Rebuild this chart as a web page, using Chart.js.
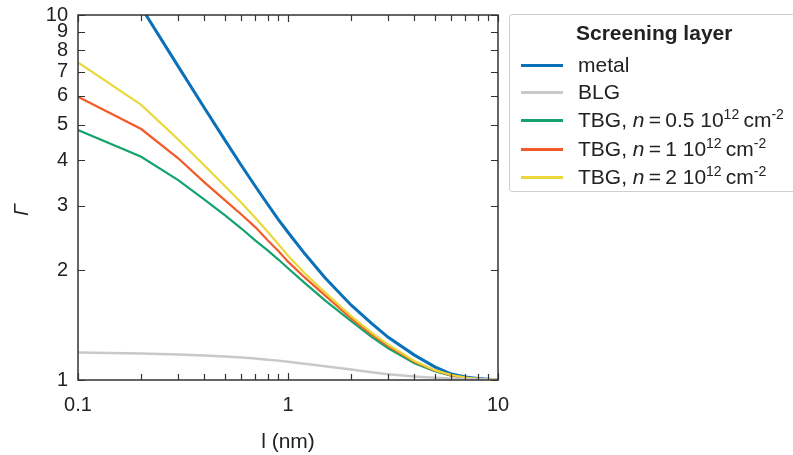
<!DOCTYPE html>
<html>
<head>
<meta charset="utf-8">
<script src="https://cdn.jsdelivr.net/npm/chart.js@4/dist/chart.umd.min.js"></script>
<style>
  html, body { margin: 0; padding: 0; background: #fff; }
  #wrap { position: relative; width: 793px; height: 455px; overflow: hidden; font-family: "Liberation Sans", Arial, sans-serif; }
  #c { position: absolute; left: 0; top: 0; }
  #legend { position: absolute; left: 509px; top: 14px; width: 300px; height: 178px; border: 1px solid #cfcfcf; border-radius: 3px; box-sizing: border-box; color: #222; }
  #legend .ttl { position: absolute; left: 66px; top: 6px; font-size: 21px; line-height: 24px; font-weight: bold; white-space: nowrap; }
  #legend .item { position: absolute; left: 0; height: 24px; white-space: nowrap; font-size: 21px; }
  #legend .sw { position: absolute; left: 11px; top: 11px; width: 42px; height: 3px; }
  #legend .tx { position: absolute; left: 68px; top: 0; line-height: 24px; }
  #legend sup { font-size: 14px; line-height: 0; vertical-align: 0; position: relative; top: -8px; }
</style>
</head>
<body>
<div id="wrap">
  <canvas id="c" width="793" height="455"></canvas>
  <div id="legend"></div>
</div>
<script>
// ---- data ----
const lengths = [0.1, 0.2, 0.3, 0.4, 0.5, 0.6, 0.7, 0.8, 0.9, 1.0, 1.2, 1.5, 2.0, 2.5, 3.0, 4.0, 5.0, 6.0, 7.0, 8.0, 9.0, 10.0];
const metal   = [20, 10.5, 7.23, 5.56, 4.55, 3.87, 3.39, 3.03, 2.75, 2.54, 2.22, 1.905, 1.603, 1.429, 1.309, 1.17, 1.086, 1.038, 1.019, 1.009, 1.005, 1.002];
const blg     = [1.19, 1.182, 1.175, 1.168, 1.160, 1.152, 1.145, 1.137, 1.130, 1.122, 1.108, 1.090, 1.068, 1.050, 1.037, 1.022, 1.014, 1.009, 1.006, 1.004, 1.003, 1.002];
const tbg05   = [4.84, 4.09, 3.53, 3.12, 2.83, 2.60, 2.41, 2.265, 2.138, 2.023, 1.845, 1.652, 1.449, 1.312, 1.222, 1.112, 1.057, 1.028, 1.014, 1.007, 1.004, 1.002];
const tbg1    = [5.97, 4.87, 4.05, 3.48, 3.11, 2.84, 2.62, 2.415, 2.255, 2.11, 1.91, 1.706, 1.476, 1.334, 1.239, 1.122, 1.062, 1.030, 1.015, 1.0076, 1.004, 1.002];
const tbg2    = [7.42, 5.67, 4.56, 3.87, 3.40, 3.06, 2.78, 2.547, 2.355, 2.19, 1.96, 1.738, 1.496, 1.349, 1.250, 1.127, 1.064, 1.032, 1.016, 1.008, 1.0044, 1.002];

const seriesNames = ['metal', 'BLG', 'TBG, n = 0.5 10^12 cm^-2', 'TBG, n = 1 10^12 cm^-2', 'TBG, n = 2 10^12 cm^-2'];
const seriesHtml = [
  'metal',
  'BLG',
  'TBG, <i>n</i>\u2009=\u20090.5 10<sup>12</sup>\u2009cm<sup>-2</sup>',
  'TBG, <i>n</i>\u2009=\u20091 10<sup>12</sup>\u2009cm<sup>-2</sup>',
  'TBG, <i>n</i>\u2009=\u20092 10<sup>12</sup>\u2009cm<sup>-2</sup>'
];
const seriesValues = [metal, blg, tbg05, tbg1, tbg2];
const seriesColors = ['#0a70b9', '#c9c9c9', '#14a36c', '#f25a29', '#ead83a'];
const seriesWidths = [3, 2.5, 2.2, 2.2, 2.2];
const legendTitle = 'Screening layer';

const xTickLabels = [0.1, 1, 10];
const xMinorTicks = [0.2, 0.3, 0.4, 0.5, 0.6, 0.7, 0.8, 0.9, 2, 3, 4, 5, 6, 7, 8, 9];
const yTickLabels = [1, 2, 3, 4, 5, 6, 7, 8, 9, 10];
const xTitle = 'l (nm)';
const yTitle = 'Γ\u2003\u2009';

const FONT = '"Liberation Sans", Arial, sans-serif';
const AXIS = '#333333';

const datasets = seriesValues.map((vals, i) => ({
  label: seriesNames[i],
  data: lengths.map((l, j) => ({ x: l, y: vals[j] })),
  borderColor: seriesColors[i],
  backgroundColor: seriesColors[i],
  borderWidth: seriesWidths[i],
  pointRadius: 0,
  tension: 0,
  fill: false
}));
// draw order: BLG, green, red, yellow, metal on top
const order = [4, 0, 3, 2, 1];
datasets.forEach((d, i) => d.order = order[i]);

const frame = {
  id: 'frame',
  afterDraw(chart) {
    const { ctx, chartArea: a, scales: { x, y } } = chart;
    ctx.save();
    ctx.strokeStyle = AXIS;
    ctx.lineWidth = 1.5;
    ctx.strokeRect(a.left, a.top, a.right - a.left, a.bottom - a.top);
    ctx.lineWidth = 1.2;
    ctx.beginPath();
    const xt = (v, len) => {
      const px = Math.round(x.getPixelForValue(v)) + 0.5;
      ctx.moveTo(px, a.bottom); ctx.lineTo(px, a.bottom - len);
      ctx.moveTo(px, a.top); ctx.lineTo(px, a.top + len);
    };
    xMinorTicks.forEach(v => xt(v, 6));
    xTickLabels.forEach(v => xt(v, 7));
    yTickLabels.forEach(v => {
      const py = Math.round(y.getPixelForValue(v)) + 0.5;
      ctx.moveTo(a.left, py); ctx.lineTo(a.left + 7, py);
      ctx.moveTo(a.right, py); ctx.lineTo(a.right - 7, py);
    });
    ctx.stroke();
    ctx.restore();
  }
};

new Chart(document.getElementById('c'), {
  type: 'line',
  data: { datasets },
  options: {
    responsive: false,
    devicePixelRatio: 1,
    animation: false,
    layout: { padding: { top: 15, right: 295, left: 0, bottom: 0 } },
    plugins: { legend: { display: false }, tooltip: { enabled: false } },
    scales: {
      x: {
        type: 'logarithmic', min: 0.1, max: 10,
        afterFit: s => { s.height = 75; s.paddingLeft = 0; s.paddingRight = 0; },
        afterBuildTicks: s => { s.ticks = xTickLabels.map(v => ({ value: v })); },
        grid: { display: false, drawTicks: false },
        border: { display: false },
        ticks: { color: '#222', font: { family: FONT, size: 20 }, padding: 13, maxRotation: 0, autoSkip: false,
                  callback: v => String(v) },
        title: { display: true, text: xTitle, color: '#222', font: { family: FONT, size: 21 }, padding: { top: 0, bottom: 0 } }
      },
      y: {
        type: 'logarithmic', min: 1, max: 10,
        afterFit: s => { s.width = 78; s.paddingTop = 0; s.paddingBottom = 0; },
        afterBuildTicks: s => { s.ticks = yTickLabels.map(v => ({ value: v })); },
        grid: { display: false, drawTicks: false },
        border: { display: false },
        ticks: { color: '#222', font: { family: FONT, size: 20 }, padding: 10, autoSkip: false,
                 callback: v => String(v) },
        title: { display: true, text: yTitle, color: '#222', font: { family: FONT, size: 21, style: 'italic' }, padding: { top: 10, bottom: 0 } }
      }
    }
  },
  plugins: [frame]
});

// HTML legend built from the series arrays
const lg = document.getElementById('legend');
const t = document.createElement('div');
t.className = 'ttl'; t.textContent = legendTitle; lg.appendChild(t);
const itemY = [38, 65, 93, 122, 150];
seriesHtml.forEach((h, i) => {
  const it = document.createElement('div');
  it.className = 'item'; it.style.top = itemY[i] + 'px';
  it.innerHTML = '<div class="sw" style="background:' + seriesColors[i] + '"></div><div class="tx">' + h + '</div>';
  lg.appendChild(it);
});
</script>
</body>
</html>
